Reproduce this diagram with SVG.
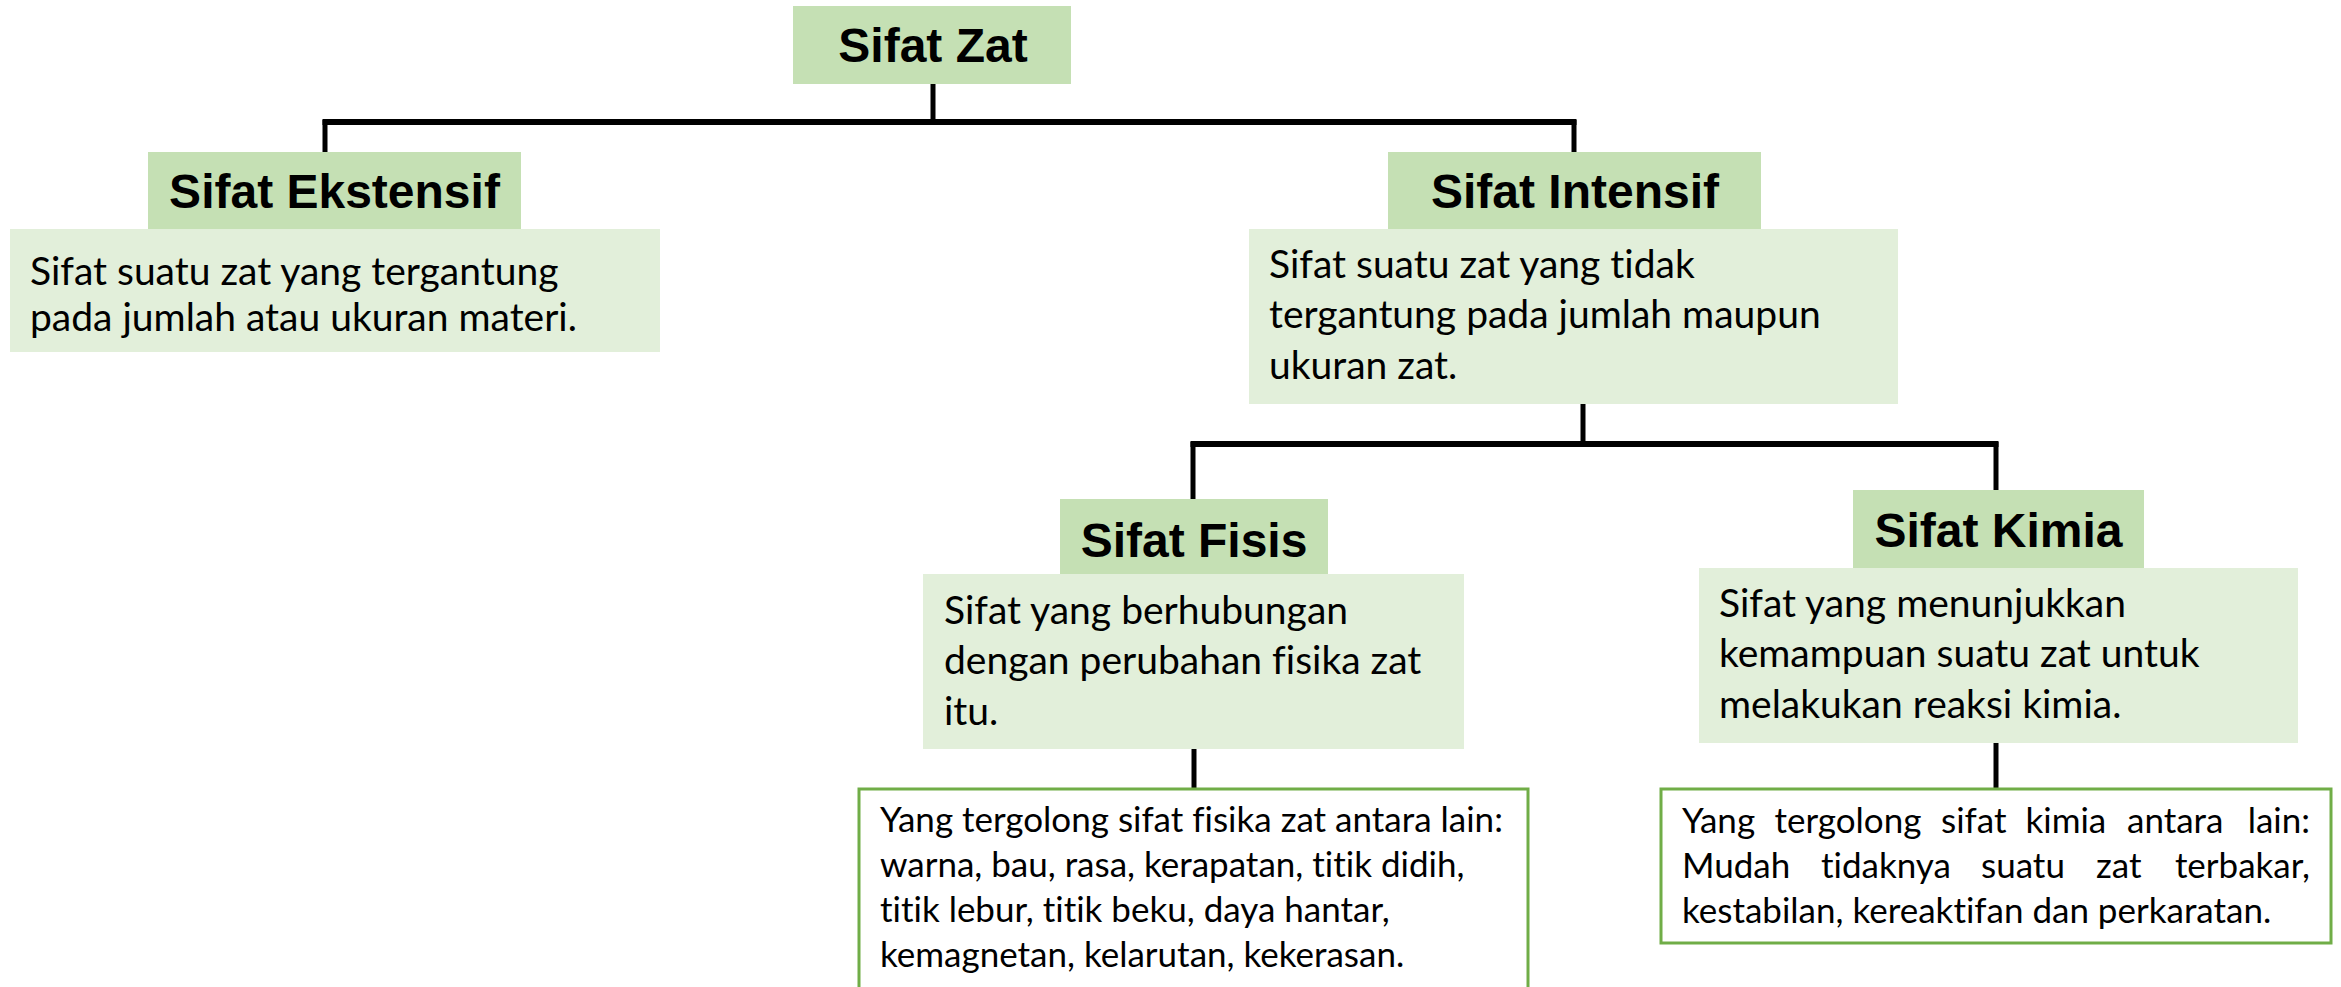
<svg xmlns="http://www.w3.org/2000/svg" width="2341" height="987" viewBox="0 0 2341 987">
<style>
.hdr{fill:#C5E0B4}
.body{fill:#E2EFDA}
.list{fill:#FFFFFF;stroke:#70AD47;stroke-width:3}
.ht{font-family:"Liberation Sans",Arial,sans-serif;font-weight:bold;font-size:48px;fill:#000;text-anchor:middle}
.bt{font-family:Lato,"Open Sans",sans-serif;font-size:39px;fill:#000;font-variant-ligatures:none}
.lt{font-family:Lato,"Open Sans",sans-serif;font-size:35px;fill:#000;font-variant-ligatures:none}
.h{stroke:#000;stroke-width:6;fill:none}
.v{stroke:#000;stroke-width:5;fill:none}
</style>
<rect width="2341" height="987" fill="#FFFFFF"/>
<g id="connectors">
<line class="v" x1="933" y1="84" x2="933" y2="122"/>
<line class="h" x1="322.5" y1="122" x2="1576.5" y2="122"/>
<line class="v" x1="325" y1="120" x2="325" y2="152"/>
<line class="v" x1="1574" y1="120" x2="1574" y2="152"/>
<line class="v" x1="1583" y1="403" x2="1583" y2="444"/>
<line class="h" x1="1190.5" y1="444" x2="1998.5" y2="444"/>
<line class="v" x1="1193" y1="442" x2="1193" y2="499"/>
<line class="v" x1="1996" y1="442" x2="1996" y2="490"/>
<line class="v" x1="1194" y1="749" x2="1194" y2="789"/>
<line class="v" x1="1996" y1="743" x2="1996" y2="789"/>
</g>
<g id="sifat-zat">
<rect class="hdr" x="793" y="6" width="278" height="78"/>
<text class="ht" x="933" y="62">Sifat Zat</text>
</g>
<g id="sifat-ekstensif">
<rect class="body" x="10" y="229" width="650" height="123"/>
<rect class="hdr" x="148" y="152" width="373" height="77"/>
<text class="ht" x="334.5" y="208">Sifat Ekstensif</text>
<text class="bt" x="30" y="285">Sifat suatu zat yang tergantung</text>
<text class="bt" x="30" y="331">pada jumlah atau ukuran materi.</text>
</g>
<g id="sifat-intensif">
<rect class="body" x="1249" y="229" width="649" height="175"/>
<rect class="hdr" x="1388" y="152" width="373" height="77"/>
<text class="ht" x="1575" y="208">Sifat Intensif</text>
<text class="bt" x="1269" y="278">Sifat suatu zat yang tidak</text>
<text class="bt" x="1269" y="328">tergantung pada jumlah maupun</text>
<text class="bt" x="1269" y="379">ukuran zat.</text>
</g>
<g id="sifat-fisis">
<rect class="body" x="923" y="574" width="541" height="175"/>
<rect class="hdr" x="1060" y="499" width="268" height="75"/>
<text class="ht" x="1194" y="557">Sifat Fisis</text>
<text class="bt" x="944" y="624">Sifat yang berhubungan</text>
<text class="bt" x="944" y="674">dengan perubahan fisika zat</text>
<text class="bt" x="944" y="725">itu.</text>
</g>
<g id="sifat-kimia">
<rect class="body" x="1699" y="568" width="599" height="175"/>
<rect class="hdr" x="1853" y="490" width="291" height="78"/>
<text class="ht" x="1998.5" y="547">Sifat Kimia</text>
<text class="bt" x="1719" y="617">Sifat yang menunjukkan</text>
<text class="bt" x="1719" y="667">kemampuan suatu zat untuk</text>
<text class="bt" x="1719" y="718">melakukan reaksi kimia.</text>
</g>
<g id="fisika-list">
<rect class="list" x="859" y="789" width="669" height="210"/>
<text class="lt" x="880" y="832">Yang tergolong sifat fisika zat antara lain:</text>
<text class="lt" x="880" y="877">warna, bau, rasa, kerapatan, titik didih,</text>
<text class="lt" x="880" y="922">titik lebur, titik beku, daya hantar,</text>
<text class="lt" x="880" y="967">kemagnetan, kelarutan, kekerasan.</text>
</g>
<g id="kimia-list">
<rect class="list" x="1661" y="789" width="670" height="154"/>
<text class="lt" x="1682" y="833">Yang</text>
<text class="lt" x="1774.5" y="833">tergolong</text>
<text class="lt" x="1941" y="833">sifat</text>
<text class="lt" x="2025.5" y="833">kimia</text>
<text class="lt" x="2127" y="833">antara</text>
<text class="lt" x="2310" y="833" text-anchor="end">lain:</text>
<text class="lt" x="1682" y="878">Mudah</text>
<text class="lt" x="1821" y="878">tidaknya</text>
<text class="lt" x="1981" y="878">suatu</text>
<text class="lt" x="2096" y="878">zat</text>
<text class="lt" x="2310" y="878" text-anchor="end">terbakar,</text>
<text class="lt" x="1682" y="923">kestabilan, kereaktifan dan perkaratan.</text>
</g>
</svg>
